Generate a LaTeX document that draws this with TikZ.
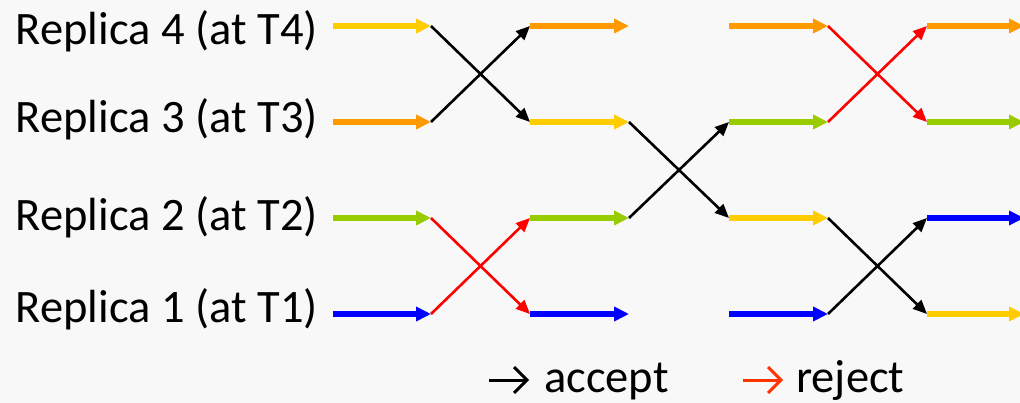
\documentclass[tikz,border=0pt]{standalone}
\usepackage{fontspec}
\setmainfont{Carlito}
\usetikzlibrary{arrows.meta,calc}
\definecolor{bgc}{RGB}{248,248,248}
\definecolor{ryel}{RGB}{255,204,0}
\definecolor{rora}{RGB}{255,153,0}
\definecolor{rgrn}{RGB}{153,204,0}
\definecolor{rblu}{RGB}{0,0,255}
\definecolor{rred}{RGB}{255,0,0}
\definecolor{lred}{RGB}{255,51,0}
\tikzset{
  seg/.style={line width=5.5pt,-{Triangle[length=15pt,width=14pt]}},
  acc/.style={line width=2.6pt,black,-{Triangle[length=14pt,width=12pt]}},
  rej/.style={line width=2.6pt,rred,-{Triangle[length=14pt,width=12pt]}},
  lab/.style={font=\fontsize{46.5}{52}\selectfont,inner sep=0pt},
  legarrow/.style={line width=3pt,line join=miter}
}
\begin{document}
\begin{tikzpicture}[x=1pt,y=-1pt]
\fill[bgc] (0,0) rectangle (1020,403);
\useasboundingbox (0,0) rectangle (1020,403);
% labels
\node[lab,anchor=base east] (l4) at (318,45) {Replica 4 (at T4)};
\node[lab,anchor=base east] (l3) at (318,133) {Replica 3 (at T3)};
\node[lab,anchor=base east] (l2) at (318,231) {Replica 2 (at T2)};
\node[lab,anchor=base east] (l1) at (318,323) {Replica 1 (at T1)};
% coordinates
\foreach \r/\y in {4/26,3/122,2/218,1/314}{
  \foreach \c/\x in {0/333,1/431,2/530,3/629,4/729,5/828,6/927,7/1024}{
    \coordinate (p\r\c) at (\x,\y);
  }
}
% column 1
\draw[seg,ryel] (p40) -- (p41);
\draw[seg,rora] (p30) -- (p31);
\draw[seg,rgrn] (p20) -- (p21);
\draw[seg,rblu] (p10) -- (p11);
% crossing 1
\draw[acc] (p41) -- (p32);
\draw[acc] (p31) -- (p42);
\draw[rej] (p21) -- (p12);
\draw[rej] (p11) -- (p22);
% column 2
\draw[seg,rora] (p42) -- (p43);
\draw[seg,ryel] (p32) -- (p33);
\draw[seg,rgrn] (p22) -- (p23);
\draw[seg,rblu] (p12) -- (p13);
% crossing 2
\draw[acc] (p33) -- (p24);
\draw[acc] (p23) -- (p34);
% column 3
\draw[seg,rora] (p44) -- (p45);
\draw[seg,rgrn] (p34) -- (p35);
\draw[seg,ryel] (p24) -- (p25);
\draw[seg,rblu] (p14) -- (p15);
% crossing 3
\draw[rej] (p45) -- (p36);
\draw[rej] (p35) -- (p46);
\draw[acc] (p25) -- (p16);
\draw[acc] (p15) -- (p26);
% column 4
\draw[seg,rora] (p46) -- (p47);
\draw[seg,rgrn] (p36) -- (p37);
\draw[seg,rblu] (p26) -- (p27);
\draw[seg,ryel] (p16) -- (p17);
% legend
\node[lab,anchor=base west] (acc) at (544,392) {accept};
\node[lab,anchor=base west] (rej) at (796,392) {reject};
\coordinate (a1) at (489,380);
\coordinate (a2) at (527,380);
\coordinate (b1) at (743,380);
\coordinate (b2) at (781,380);
\draw[legarrow,black] (a1) -- (a2);
\draw[legarrow,black] ($(a2)+(-13,-13)$) -- (a2) -- ($(a2)+(-13,13)$);
\draw[legarrow,lred] (b1) -- (b2);
\draw[legarrow,lred] ($(b2)+(-13,-13)$) -- (b2) -- ($(b2)+(-13,13)$);
\end{tikzpicture}
\end{document}
